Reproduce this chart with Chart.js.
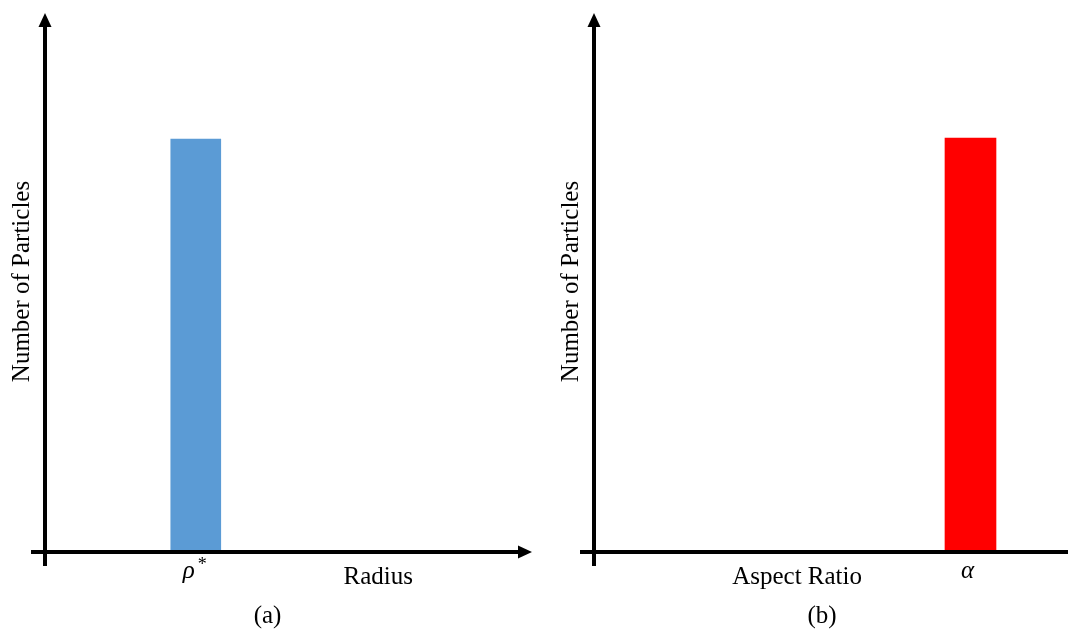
<!DOCTYPE html>
<html>
<head>
<meta charset="utf-8">
<script src="https://cdn.jsdelivr.net/npm/chart.js@4.4.1/dist/chart.umd.min.js"></script>
<style>
  html, body { margin: 0; padding: 0; background: #fff; width: 1068px; height: 629px; overflow: hidden; }
  #radiusChart { position: absolute; left: 0; top: 0; }
  #aspectChart { position: absolute; left: 540px; top: 0; }
</style>
</head>
<body>
<canvas id="radiusChart" width="540" height="629"></canvas>
<canvas id="aspectChart" width="552" height="629"></canvas>
<script>
// Panel (a): particle radius distribution (single spike at rho*)
const radiusPositions = [3.11];
const radiusCounts = [76.5];
const radiusMarkLabel = ["ρ", "*"];
const radiusAxisName = "Radius";
const radiusAxisNameAt = 6.85;

// Panel (b): aspect ratio distribution (single spike at alpha)
const aspectPositions = [7.565];
const aspectCounts = [76.7];
const aspectMarkLabel = ["α", ""];
const aspectAxisName = "Aspect Ratio";
const aspectAxisNameAt = 4.09;

// Shared axis ranges
const xRange = [0, 10];
const yRange = [0, 100];

const SERIF = '"Liberation Serif", "Times New Roman", serif';
Chart.defaults.font.family = SERIF;
Chart.defaults.color = "#000";

// Draws the arrowed axes (crossing at the origin) and the x labels
const crossAxes = {
  id: "crossAxes",
  afterDatasetsDraw(chart, args, opts) {
    const { ctx, chartArea: a, scales } = chart;
    const x = scales.x;
    const head = 14, half = 6.5;
    ctx.save();
    ctx.strokeStyle = "#000";
    ctx.fillStyle = "#000";
    ctx.lineWidth = 4;

    // y axis with arrow up
    const ax = a.left + 1;
    ctx.beginPath();
    ctx.moveTo(ax, a.bottom + 16);
    ctx.lineTo(ax, a.top + head - 2);
    ctx.stroke();
    ctx.beginPath();
    ctx.moveTo(ax, a.top);
    ctx.lineTo(ax - half, a.top + head);
    ctx.lineTo(ax + half, a.top + head);
    ctx.closePath();
    ctx.fill();

    // x axis with arrow right
    const ay = a.bottom + 2;
    ctx.beginPath();
    ctx.moveTo(a.left - 13, ay);
    ctx.lineTo(a.right - head + 2, ay);
    ctx.stroke();
    ctx.beginPath();
    ctx.moveTo(a.right, ay);
    ctx.lineTo(a.right - head, ay - half);
    ctx.lineTo(a.right - head, ay + half);
    ctx.closePath();
    ctx.fill();

    // symbol under the bar
    const cx = x.getPixelForValue(opts.markAt) + opts.markShift;
    ctx.textBaseline = "alphabetic";
    ctx.font = "italic 25px " + SERIF;
    const w = ctx.measureText(opts.mark[0]).width;
    ctx.textAlign = "center";
    ctx.fillText(opts.mark[0], cx, 578);
    if (opts.mark[1]) {
      ctx.font = "18px " + SERIF;
      ctx.textAlign = "left";
      ctx.fillText(opts.mark[1], cx + w / 2 + 3, 570);
    }

    // axis name
    ctx.font = "25px " + SERIF;
    ctx.textAlign = "center";
    ctx.fillText(opts.name, x.getPixelForValue(opts.nameAt), 584);
    ctx.restore();
  }
};

function makePanel(id, positions, counts, color, thickness, caption, mark, markShift, name, nameAt, pad) {
  const el = document.getElementById(id);
  return new Chart(el, {
    type: "bar",
    data: {
      datasets: [{
        data: positions.map((p, i) => ({ x: p, y: counts[i] })),
        backgroundColor: color,
        borderWidth: 0,
        barThickness: thickness
      }]
    },
    options: {
      responsive: false,
      animation: false,
      layout: { padding: pad },
      scales: {
        x: {
          type: "linear",
          min: xRange[0],
          max: xRange[1],
          offset: false,
          display: false
        },
        y: {
          min: yRange[0],
          max: yRange[1],
          grid: { display: false, drawTicks: false },
          border: { display: false },
          ticks: { display: false },
          title: {
            display: true,
            text: "Number of Particles",
            color: "#000",
            font: { size: 25, family: SERIF },
            padding: { top: 4, bottom: 7 }
          }
        }
      },
      plugins: {
        legend: { display: false },
        tooltip: { enabled: false },
        title: {
          display: true,
          position: "bottom",
          text: caption,
          color: "#000",
          font: { size: 25, family: SERIF, weight: "normal", lineHeight: 1 },
          padding: { top: 54, bottom: 0 }
        },
        crossAxes: { mark: mark, markAt: positions[0], markShift: markShift, name: name, nameAt: nameAt }
      }
    },
    plugins: [crossAxes]
  });
}

makePanel("radiusChart", radiusPositions, radiusCounts, "#5B9BD5", 50, "(a)",
  radiusMarkLabel, -7, radiusAxisName, radiusAxisNameAt, { left: 3, right: 8, top: 13, bottom: 0 });
makePanel("aspectChart", aspectPositions, aspectCounts, "#FF0000", 51, "(b)",
  aspectMarkLabel, -3, aspectAxisName, aspectAxisNameAt, { left: 12, right: 0, top: 13, bottom: 0 });
</script>
</body>
</html>
